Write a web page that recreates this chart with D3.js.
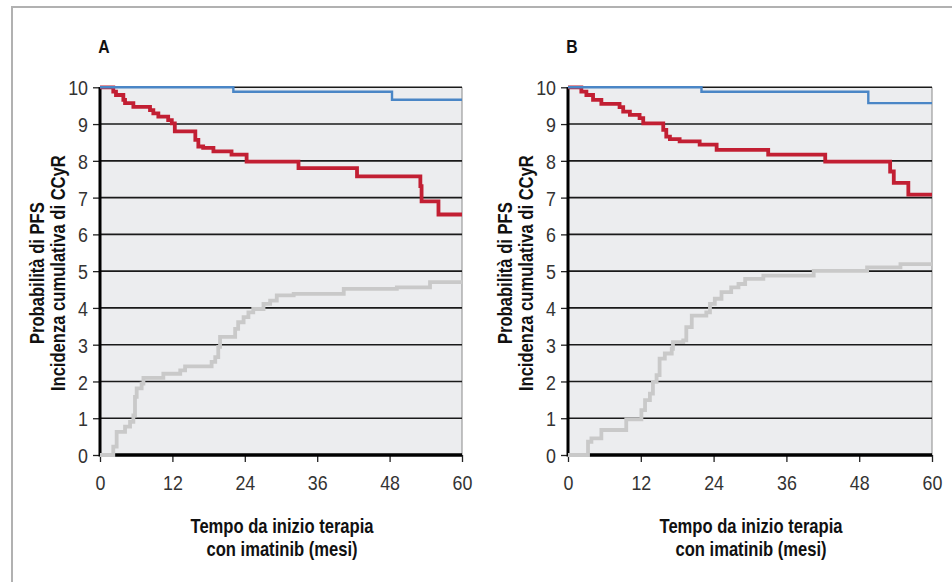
<!DOCTYPE html>
<html>
<head>
<meta charset="utf-8">
<script src="https://cdn.jsdelivr.net/npm/d3@7"></script>
<style>
  body { margin: 0; background: #fff; }
  svg { display: block; }
  text { font-family: "Liberation Sans", Arial, sans-serif; }
</style>
</head>
<body>
<svg id="chart" width="952" height="582"></svg>
<script>
// months on x, value (0-10) on y; every series is a step function
let yTicks = [0, 1, 2, 3, 4, 5, 6, 7, 8, 9, 10];
let xTicks = [0, 12, 24, 36, 48, 60];
let panelLabels = ["A", "B"];
let yTitle = ["Probabilità di PFS", "Incidenza cumulativa di CCyR"];
let xTitle = ["Tempo da inizio terapia", "con imatinib (mesi)"];

// panel A
let blueA_t = [0, 22.1, 48.4, 60];
let blueA_v = [10, 9.88, 9.66, 9.66];
let redA_t = [0, 2.2, 2.65, 3.87, 4.15, 5.53, 8.29, 8.84, 9.67, 11.3, 11.9, 12.4, 15.8, 16.3, 17.1, 18.8, 21.8, 24.3, 32.9, 42.6, 53.1, 53.3, 56.1, 60];
let redA_v = [10, 9.88, 9.79, 9.66, 9.57, 9.47, 9.38, 9.29, 9.2, 9.11, 9.02, 8.8, 8.57, 8.39, 8.35, 8.26, 8.17, 7.98, 7.8, 7.58, 7.31, 6.9, 6.54, 6.54];
let greyA_t = [0, 2.2, 2.76, 4.15, 4.98, 5.53, 5.8, 6.08, 6.9, 7.2, 10.5, 13.3, 14.1, 18.5, 19.1, 19.6, 19.9, 22.4, 22.9, 23.8, 24.6, 25.4, 27.1, 28.2, 29.3, 32.1, 40.4, 49.2, 54.7, 60];
let greyA_v = [0, 0.23, 0.63, 0.77, 0.9, 1.08, 1.58, 1.81, 1.94, 2.1, 2.21, 2.3, 2.41, 2.53, 2.66, 2.94, 3.21, 3.43, 3.61, 3.75, 3.88, 3.97, 4.11, 4.2, 4.34, 4.38, 4.52, 4.56, 4.7, 4.7];

// panel B
let blueB_t = [0, 22.0, 49.5, 60];
let blueB_v = [10, 9.88, 9.57, 9.57];
let redB_t = [0, 2.2, 3.03, 4.13, 5.5, 8.5, 9.1, 10.2, 11.8, 12.4, 15.7, 16.2, 16.8, 18.4, 21.7, 24.5, 33.0, 42.4, 53.1, 53.7, 56.1, 60];
let redB_v = [10, 9.88, 9.79, 9.66, 9.55, 9.46, 9.34, 9.25, 9.16, 9.02, 8.84, 8.66, 8.59, 8.53, 8.44, 8.3, 8.17, 7.98, 7.71, 7.4, 7.08, 7.08];
let greyB_t = [0, 3.3, 3.86, 5.5, 9.6, 12.1, 12.7, 13.5, 14.0, 14.6, 15.1, 15.96, 17.1, 17.3, 19.0, 19.5, 20.4, 22.8, 23.4, 24.2, 25.3, 26.9, 28.1, 29.2, 32.2, 40.5, 49.3, 54.8, 60];
let greyB_v = [0, 0.36, 0.45, 0.68, 0.97, 1.22, 1.49, 1.67, 1.99, 2.17, 2.62, 2.76, 2.89, 3.07, 3.12, 3.48, 3.79, 3.88, 4.11, 4.25, 4.43, 4.56, 4.65, 4.79, 4.88, 5.01, 5.1, 5.19, 5.19];

let colors = { blue: "#4a86c6", red: "#c21f33", grey: "#c9c9c9" };

let svg = d3.select("#chart");

// outer frame
svg.append("path")
    .attr("d", "M12,582 L12,7 L952,7")
    .attr("fill", "none")
    .attr("stroke", "#b1b1b1")
    .attr("stroke-width", 2);

let panels = [
    { label: panelLabels[0], left: 100, right: 462, series: [
        { t: greyA_t, v: greyA_v, c: colors.grey, w: 3.8 },
        { t: redA_t, v: redA_v, c: colors.red, w: 3.8 },
        { t: blueA_t, v: blueA_v, c: colors.blue, w: 2.4 }
    ] },
    { label: panelLabels[1], left: 568, right: 932, series: [
        { t: greyB_t, v: greyB_v, c: colors.grey, w: 3.8 },
        { t: redB_t, v: redB_v, c: colors.red, w: 3.8 },
        { t: blueB_t, v: blueB_v, c: colors.blue, w: 2.4 }
    ] }
];

let plotTop = 87.3, plotBottom = 455;
let narrow = 0.85;   // condensed look for tick labels
let narrowBold = 0.83;

panels.forEach(p => drawPanel(p));

// squeeze a text horizontally around its own anchor
function squeeze(sel, k) {
    sel.each(function () {
        let t = d3.select(this);
        let xx = +t.attr("x") || 0;
        t.attr("x", 0).attr("transform", `translate(${xx},0) scale(${k},1)`);
    });
}

function label(g, x, y, rot, txt, size) {
    g.append("text")
        .attr("transform", `translate(${x},${y}) rotate(${rot}) scale(${narrowBold},1)`)
        .attr("text-anchor", "middle")
        .attr("font-size", size).attr("font-weight", "bold")
        .attr("fill", "#111")
        .text(txt);
}

function drawPanel(p) {
    let x = d3.scaleLinear().domain([0, 60]).range([p.left, p.right]);
    let y = d3.scaleLinear().domain([0, 10]).range([plotBottom, plotTop]);
    let g = svg.append("g");

    g.append("rect")
        .attr("x", p.left).attr("y", plotTop)
        .attr("width", p.right - p.left).attr("height", plotBottom - plotTop)
        .attr("fill", "#ecedef");

    g.append("line")
        .attr("x1", p.right).attr("x2", p.right)
        .attr("y1", plotTop).attr("y2", plotBottom)
        .attr("stroke", "#8a8a8a").attr("stroke-width", 1);

    // grid
    g.selectAll(".grid")
        .data(yTicks.filter(d => d > 0))
        .enter()
        .append("line")
        .attr("x1", p.left).attr("x2", p.right)
        .attr("y1", d => y(d)).attr("y2", d => y(d))
        .attr("stroke", "#1a1a1a").attr("stroke-width", 1.6);

    let yAxis = g.append("g")
        .attr("transform", `translate(${p.left},0)`)
        .call(d3.axisLeft(y).tickValues(yTicks).tickSize(7).tickPadding(5));
    let xAxis = g.append("g")
        .attr("transform", `translate(0,${plotBottom})`)
        .call(d3.axisBottom(x).tickValues(xTicks).tickSize(7).tickPadding(4));

    [yAxis, xAxis].forEach(a => {
        a.select(".domain").remove();
        a.selectAll("line").attr("stroke", "#222").attr("stroke-width", 1.3);
        a.selectAll("text")
            .attr("font-size", 21)
            .attr("fill", "#333")
            .style("font-family", '"Liberation Sans", Arial, sans-serif');
        squeeze(a.selectAll("text"), narrow);
    });
    yAxis.selectAll("text").attr("dy", "0.36em");
    xAxis.selectAll("text").attr("dy", "1.12em");

    // axis lines
    g.append("line")
        .attr("x1", p.left).attr("x2", p.right)
        .attr("y1", plotBottom).attr("y2", plotBottom)
        .attr("stroke", "#000").attr("stroke-width", 3.5);
    g.append("line")
        .attr("x1", p.left).attr("x2", p.left)
        .attr("y1", plotTop).attr("y2", plotBottom + 1.5)
        .attr("stroke", "#000").attr("stroke-width", 3);

    let line = d3.line()
        .x(d => x(d[0]))
        .y(d => y(d[1]))
        .curve(d3.curveStepAfter);

    p.series.forEach(s => {
        let pts = s.t.map((t, i) => [t, s.v[i]]);
        g.append("path")
            .datum(pts)
            .attr("d", line)
            .attr("fill", "none")
            .attr("stroke", s.c)
            .attr("stroke-width", s.w);
    });

    // titles
    label(g, p.left + 4, 53, 0, p.label, 19);

    let cy = (plotTop + plotBottom) / 2 + 2;
    yTitle.forEach((t, i) => label(g, p.left - 56 + i * 21, cy, -90, t, 20));

    let cx = (p.left + p.right) / 2 + 1;
    xTitle.forEach((t, i) => label(g, cx, 533 + i * 23, 0, t, 20));
}
</script>
</body>
</html>
